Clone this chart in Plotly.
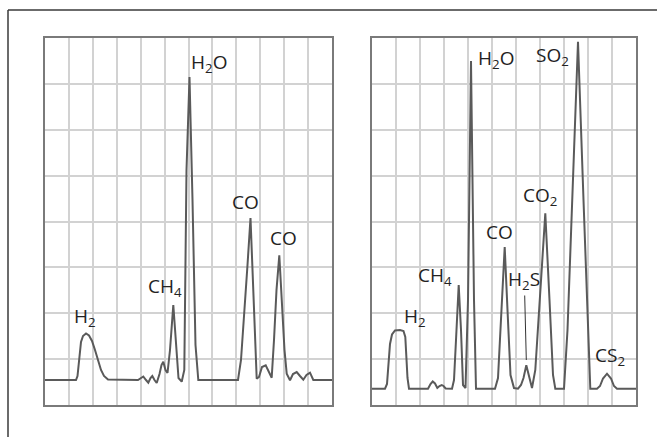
import plotly.graph_objects as go

W, H = 657, 437

# ---- data (grid units: x = column index, y = row index from bottom) ----
def px_left(p):
    return [((x - 45) / 23.917, (405 - y) / 45.875) for x, y in p]

def px_right(p):
    return [((x - 372) / 24.0, (405 - y) / 45.875) for x, y in p]

left_signal_px = [
    (45, 380), (76, 380), (77.5, 376), (79, 360), (81, 342), (83, 336), (86, 333.5), (89, 335.5),
    (92, 341), (95, 350), (98, 360), (101, 370), (104, 376), (108, 379.5), (138, 380),
    (141, 377.5), (143.3, 376.5), (146, 380), (148.3, 382.7), (150.5, 378), (152.3, 376),
    (154.5, 380), (156.7, 383), (159.5, 374), (161.5, 365), (163.3, 361.7), (165.5, 370),
    (167.5, 373), (170, 350), (173.3, 305), (176, 345), (178.5, 378), (181.7, 381.7),
    (184.3, 370), (186.5, 170), (189.5, 77), (192.5, 200), (195.5, 345), (198.3, 380),
    (238, 380), (241, 360), (244, 320), (247.5, 265), (250.5, 218), (253, 290), (255, 350),
    (256.7, 378.7), (259, 377), (262, 367), (265.7, 365.3), (268.5, 371), (271.7, 377.7),
    (274, 340), (276.5, 290), (279.3, 255.3), (282, 300), (284.5, 350), (286.7, 373.7),
    (290, 380.3), (293, 374), (296.7, 372), (300, 376), (303.3, 379.7), (306.5, 375),
    (310, 372.7), (313.3, 380), (332, 380),
]

right_signal_px = [
    (372, 388.7), (385, 388.7), (387, 384), (388.5, 362), (390, 344), (392, 334.5),
    (395, 330.5), (400, 330), (403.5, 331), (405.3, 337), (406.5, 355), (407.5, 378),
    (409, 388.7), (428, 388.7), (430.5, 384), (432.7, 381.5), (435, 383.5), (437.3, 388),
    (439.5, 386), (441.7, 385), (443.5, 386), (445.7, 388.5), (452, 388.7), (454, 380),
    (456, 340), (458.7, 285), (461, 330), (463, 385), (465.5, 388), (468, 300), (471, 61),
    (474, 300), (476, 388.7), (495, 388.7), (498, 378), (501, 320), (504.7, 247), (507.5, 310),
    (510.5, 375), (514, 388), (518, 388.7), (521, 385), (523.5, 378), (526.3, 365.3),
    (529, 376), (532, 388), (535.3, 370), (539.5, 300), (545.3, 213.3), (549.5, 300),
    (553, 375), (555.3, 388.7), (564, 388.7), (567.5, 330), (572, 200), (578, 41.7),
    (583.5, 200), (588, 330), (590.3, 388.7), (597, 388.7), (600, 386), (603, 378.5),
    (607, 373.7), (611, 378.5), (614, 386), (617, 388.7), (636, 388.7),
]

left_pts = px_left(left_signal_px)
right_pts = px_right(right_signal_px)
left_x = [p[0] for p in left_pts]
left_y = [p[1] for p in left_pts]
right_x = [p[0] for p in right_pts]
right_y = [p[1] for p in right_pts]

left_labels = ["H<sub>2</sub>O", "CO", "CO", "CH<sub>4</sub>", "H<sub>2</sub>"]
left_label_x = [6.86, 8.38, 9.97, 5.02, 1.67]
left_label_y = [7.46, 4.43, 3.65, 2.57, 1.92]

right_labels = ["H<sub>2</sub>O", "SO<sub>2</sub>", "CO<sub>2</sub>", "CO",
                "CH<sub>4</sub>", "H<sub>2</sub>", "CS<sub>2</sub>"]
right_label_x = [5.17, 7.54, 6.98, 5.31, 2.63, 1.79, 9.9]
right_label_y = [7.54, 7.61, 4.56, 3.77, 2.81, 1.92, 1.07]

h2s_label = "H<sub>2</sub>S"
h2s_peak = ((526.3 - 372) / 24.0, (405 - 360) / 45.875)

# ---- figure ----
LINE = "#5a5a5a"
fig = go.Figure()
fig.add_trace(go.Scatter(x=left_x, y=left_y, mode="lines",
                         line=dict(color=LINE, width=2), xaxis="x", yaxis="y",
                         hoverinfo="skip", showlegend=False))
fig.add_trace(go.Scatter(x=right_x, y=right_y, mode="lines",
                         line=dict(color=LINE, width=2), xaxis="x2", yaxis="y2",
                         hoverinfo="skip", showlegend=False))

ax_common = dict(showgrid=True, gridcolor="#d2d2d2", gridwidth=2, dtick=1, tick0=0,
                 zeroline=False, showticklabels=False, ticks="",
                 showline=True, mirror=True, linecolor="#7a7a7a", linewidth=2,
                 fixedrange=True)

y0 = 1 - 405 / H
y1 = 1 - 38 / H
fig.update_layout(
    width=W, height=H, margin=dict(l=0, r=0, t=0, b=0),
    paper_bgcolor="white", plot_bgcolor="white",
    font=dict(family="Open Sans", size=19, color="#222"),
    xaxis=dict(domain=[45 / W, 332 / W], range=[0, 12], **ax_common),
    yaxis=dict(domain=[y0, y1], range=[0, 8], **ax_common),
    xaxis2=dict(domain=[372 / W, 636 / W], range=[0, 11], anchor="y2", **ax_common),
    yaxis2=dict(domain=[y0, y1], range=[0, 8], anchor="x2", **ax_common),
)

anns = []
for t, x, y in zip(left_labels, left_label_x, left_label_y):
    anns.append(dict(text=t, x=x, y=y, xref="x", yref="y", showarrow=False))
for t, x, y in zip(right_labels, right_label_x, right_label_y):
    anns.append(dict(text=t, x=x, y=y, xref="x2", yref="y2", showarrow=False))
anns.append(dict(text=h2s_label, x=h2s_peak[0], y=h2s_peak[1], xref="x2", yref="y2",
                 showarrow=True, arrowhead=0, arrowwidth=1, arrowcolor="#333",
                 ax=-2, ay=-80, standoff=0))
fig.update_layout(annotations=anns)

# outer frame (top and left edges visible)
fx = 8 / W
fy = 1 - 10 / H
fig.add_shape(type="line", xref="paper", yref="paper", x0=fx, y0=fy, x1=1.01, y1=fy,
              line=dict(color="#3a3a3a", width=1.5))
fig.add_shape(type="line", xref="paper", yref="paper", x0=fx, y0=fy, x1=fx, y1=-0.01,
              line=dict(color="#3a3a3a", width=1.5))

fig.write_html("out.html", config={"displayModeBar": False, "staticPlot": True},
               post_script="document.body.style.margin='0';document.body.style.overflow='hidden';")
